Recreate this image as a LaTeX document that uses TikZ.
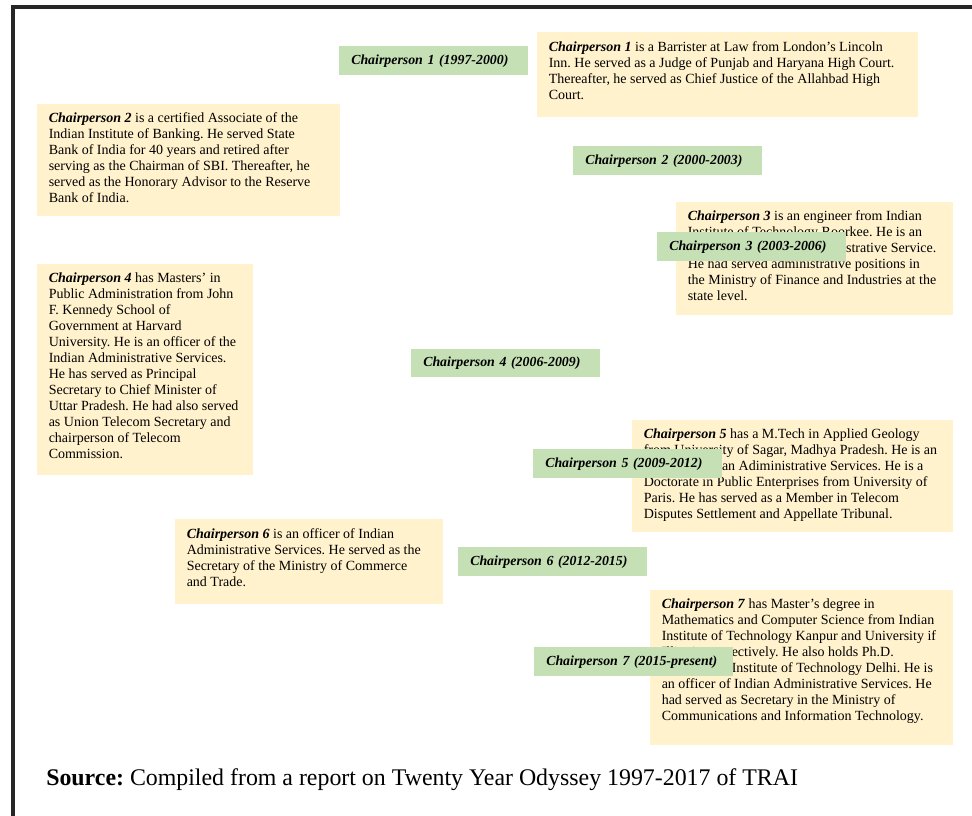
\documentclass[tikz,border=0pt]{standalone}
\usepackage{fontspec}
\setmainfont{Liberation Serif}
\frenchspacing
\definecolor{ybg}{HTML}{FFF2CC}
\definecolor{gbg}{HTML}{C5E0B4}
\definecolor{frame}{HTML}{262626}
\tikzset{
  ybox/.style={fill=ybg, draw=none, anchor=north west, inner sep=0pt},
  desc/.style={anchor=north west, inner sep=0pt, align=left, font=\fontsize{10.5}{12}\selectfont\frenchspacing},
  gbox/.style={fill=gbg, draw=none, anchor=north west, inner xsep=9pt, inner ysep=0pt,
    minimum height=21.75pt, text width=123.75pt, align=left,
    font=\fontsize{10.4}{12}\selectfont\bfseries\itshape},
}
\newcommand{\cp}[1]{\textbf{\textit{#1}}}
\begin{document}
\begin{tikzpicture}[x=0.75pt,y=-0.75pt]
\useasboundingbox (0,0) rectangle (972,816);
\draw[frame, line width=3pt] (13,816) -- (13,7) -- (972,7);

% description boxes
\node[ybox, minimum width=285.75pt, minimum height=63.75pt] (d1box) at (537,32) {};
\node[desc] (d1) at (548.5,41) {\cp{Chairperson 1} is a Barrister at Law from London’s Lincoln\\Inn. He served as a Judge of Punjab and Haryana High Court.\\Thereafter, he served as Chief Justice of the Allahbad High\\Court.};

\node[ybox, minimum width=227.25pt, minimum height=84pt] (d2box) at (37,104) {};
\node[desc] (d2) at (48.5,112.6) {\cp{Chairperson 2} is a certified Associate of the\\Indian Institute of Banking. He served State\\Bank of India for 40 years and retired after\\serving as the Chairman of SBI. Thereafter, he\\served as the Honorary Advisor to the Reserve\\Bank of India.};

\node[ybox, minimum width=207.75pt, minimum height=84.75pt] (d3box) at (676,202) {};
\node[desc] (d3) at (687.5,210.4) {\cp{Chairperson 3} is an engineer from Indian\\Institute of Technology Roorkee. He is an\\officer of the Indian Administrative Service.\\He had served administrative positions in\\the Ministry of Finance and Industries at the\\state level.};

\node[ybox, minimum width=162pt, minimum height=158.25pt] (d4box) at (37,264) {};
\node[desc] (d4) at (48.5,272.4) {\cp{Chairperson 4} has Masters’ in\\Public Administration from John\\F. Kennedy School of\\Government at Harvard\\University. He is an officer of the\\Indian Administrative Services.\\He has served as Principal\\Secretary to Chief Minister of\\Uttar Pradesh. He had also served\\as Union Telecom Secretary and\\chairperson of Telecom\\Commission.};

\node[ybox, minimum width=240.75pt, minimum height=84pt] (d5box) at (632,420) {};
\node[desc] (d5) at (643.5,428.4) {\cp{Chairperson 5} has a M.Tech in Applied Geology\\from University of Sagar, Madhya Pradesh. He is an\\officer of Indian Adiministrative Services. He is a\\Doctorate in Public Enterprises from University of\\Paris. He has served as a Member in Telecom\\Disputes Settlement and Appellate Tribunal.};

\node[ybox, minimum width=201pt, minimum height=63.75pt] (d6box) at (175,519) {};
\node[desc] (d6) at (186.5,528.2) {\cp{Chairperson 6} is an officer of Indian\\Administrative Services. He served as the\\Secretary of the Ministry of Commerce\\and Trade.};

\node[ybox, minimum width=227.25pt, minimum height=116.25pt] (d7box) at (650,590) {};
\node[desc] (d7) at (661.5,598.4) {\cp{Chairperson 7} has Master’s degree in\\Mathematics and Computer Science from Indian\\Institute of Technology Kanpur and University if\\Illinois, respectively. He also holds Ph.D.\\from Indian Institute of Technology Delhi. He is\\an officer of Indian Administrative Services. He\\had served as Secretary in the Ministry of\\Communications and Information Technology.};

% period labels
\node[gbox] (g1) at (339,46) {Chairperson 1 (1997-2000)};
\node[gbox] (g2) at (573,146) {Chairperson 2 (2000-2003)};
\node[gbox] (g3) at (657,232) {Chairperson 3 (2003-2006)};
\node[gbox, minimum height=21pt] (g4) at (411,349) {Chairperson 4 (2006-2009)};
\node[gbox] (g5) at (533,449) {Chairperson 5 (2009-2012)};
\node[gbox] (g6) at (458,547) {Chairperson 6 (2012-2015)};
\node[gbox, text width=131.25pt] (g7) at (534,647) {Chairperson 7 (2015-present)};

% source
\node[anchor=base west, inner sep=0pt, font=\fontsize{17.9}{21}\selectfont\frenchspacing] (src) at (46,785) {\textbf{Source:} Compiled from a report on Twenty Year Odyssey 1997-2017 of TRAI};
\end{tikzpicture}
\end{document}
